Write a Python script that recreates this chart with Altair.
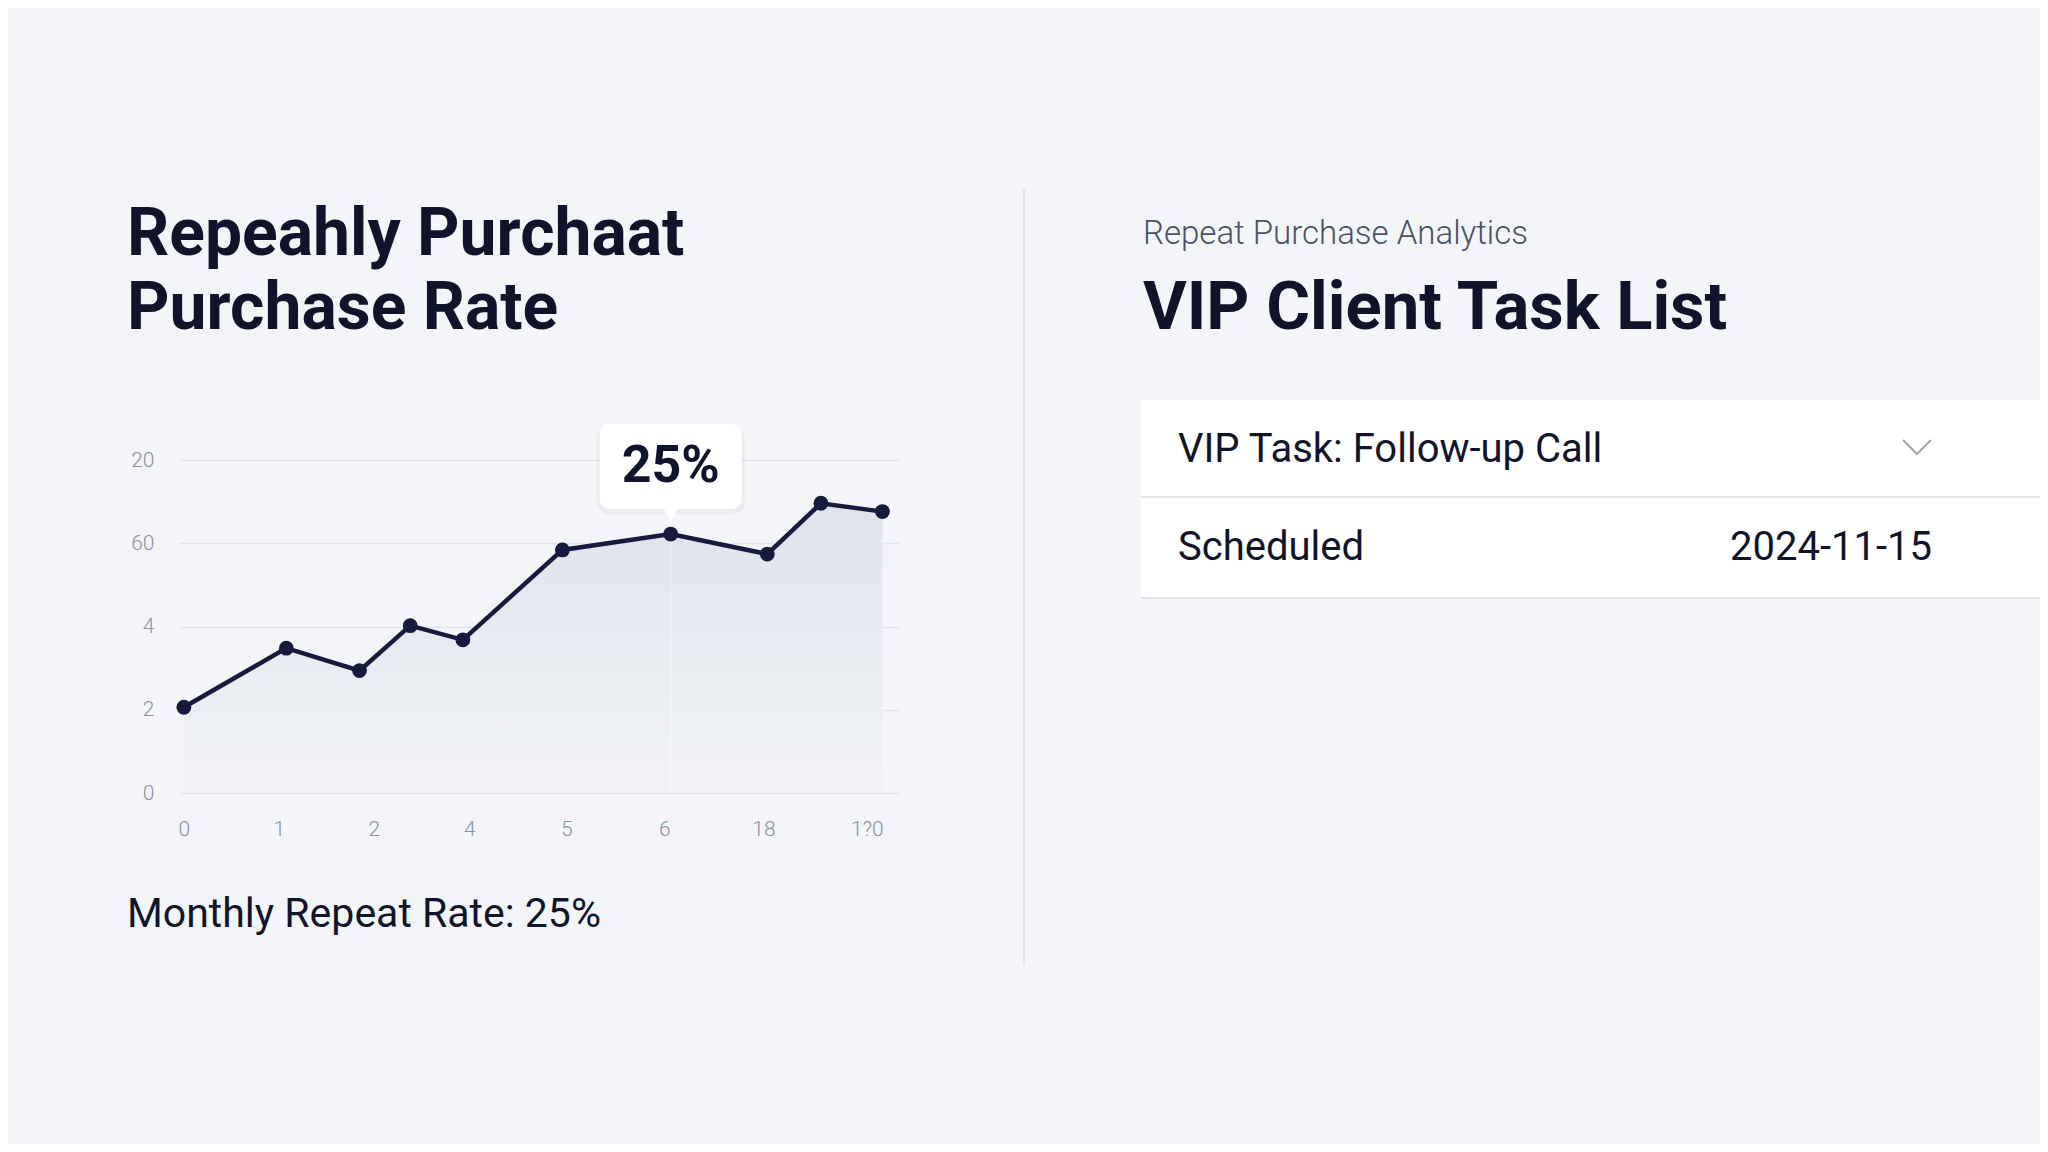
import json
import altair as alt
import pandas as pd

# ---- data ----
x_pos = [0.0, 1.05, 1.8, 2.32, 2.86, 3.88, 4.99, 5.98, 6.53, 7.16]
y_val = [1.03, 1.74, 1.47, 2.01, 1.84, 2.92, 3.11, 2.87, 3.48, 3.38]
x_tick_values = [0.0, 0.974, 1.948, 2.926, 3.92, 4.925, 5.94, 7.0]
x_tick_labels = ["0", "1", "2", "4", "5", "6", "18", "1?0"]
y_tick_values = [0, 1, 2, 3, 4]
y_tick_labels = ["0", "2", "4", "60", "20"]
highlight_index = 6
highlight_label = "25%"
title_lines = ["Repeahly Purchaat", "Purchase Rate"]
footer_text = "Monthly Repeat Rate: 25%"
panel_kicker = "Repeat Purchase Analytics"
panel_title = "VIP Client Task List"
task_name = "VIP Task: Follow-up Call"
task_status = "Scheduled"
task_date = "2024-11-15"

df = pd.DataFrame({"x": x_pos, "y": y_val})
hl = df.iloc[[highlight_index]].assign(label=highlight_label)

W, H = 720, 333
FONT = "Roboto"
NAVY = "#161b3d"
INK = "#10142b"

xscale = alt.Scale(domain=[-0.05, 7.33], nice=False, zero=False)
yscale = alt.Scale(domain=[0, 4], nice=False, zero=False)

x_axis = alt.Axis(
    values=x_tick_values,
    labelExpr=json.dumps(x_tick_labels) + "[indexof(" + json.dumps(x_tick_values) + ", datum.value)]",
    grid=False, domain=False, ticks=False, title=None,
    labelFont=FONT, labelFontSize=21, labelFontWeight=300,
    labelColor="#8b909c", labelPadding=25,
)
y_axis = alt.Axis(
    values=y_tick_values,
    labelExpr=json.dumps(y_tick_labels) + "[indexof(" + json.dumps(y_tick_values) + ", datum.value)]",
    grid=True, gridColor="#e2e5ea", gridWidth=1.5,
    domain=False, ticks=False, title=None,
    labelFont=FONT, labelFontSize=21, labelFontWeight=300,
    labelColor="#8b909c", labelPadding=25,
)

base = alt.Chart(df)

area = base.mark_area(
    color=alt.Gradient(
        gradient="linear",
        stops=[alt.GradientStop(color="#dde1ea", offset=0),
               alt.GradientStop(color="#f0f2f6", offset=1)],
        x1=1, x2=1, y1=0, y2=1,
    ),
    opacity=0.9,
).encode(
    x=alt.X("x:Q", scale=xscale, axis=x_axis),
    y=alt.Y("y:Q", scale=yscale, axis=y_axis),
)

line = base.mark_line(color=NAVY, strokeWidth=4.5).encode(
    x=alt.X("x:Q", scale=xscale), y=alt.Y("y:Q", scale=yscale)
)
points = base.mark_circle(size=220, color=NAVY, opacity=1).encode(
    x=alt.X("x:Q", scale=xscale), y=alt.Y("y:Q", scale=yscale)
)

hl_base = alt.Chart(hl)
hl_rule = hl_base.mark_rule(color="#ffffff", strokeWidth=2, opacity=0.3).encode(
    x=alt.X("x:Q", scale=xscale), y=alt.Y("y:Q", scale=yscale), y2=alt.value(H)
)
tip_shadow = hl_base.mark_rect(width=148, cornerRadius=12, color="#000000", opacity=0.035).encode(
    x=alt.X("x:Q", scale=xscale), y=alt.value(-34), y2=alt.value(54)
)
tip_box = hl_base.mark_rect(width=142, cornerRadius=10, color="#ffffff").encode(
    x=alt.X("x:Q", scale=xscale), y=alt.value(-36), y2=alt.value(49)
)
tip_arrow = hl_base.mark_point(shape="triangle-down", size=260, filled=True, color="#ffffff", opacity=1).encode(
    x=alt.X("x:Q", scale=xscale), y=alt.value(54)
)
tip_text = hl_base.mark_text(font=FONT, fontSize=52, fontWeight="bold", color=INK, baseline="middle").encode(
    x=alt.X("x:Q", scale=xscale), y=alt.value(6), text="label:N"
)


def label(text, x, y, size, weight="normal", color=INK, align="left", baseline="alphabetic"):
    return alt.Chart(pd.DataFrame({"t": [text]})).mark_text(
        font=FONT, fontSize=size, fontWeight=weight, color=color,
        align=align, baseline=baseline,
    ).encode(text="t:N", x=alt.value(x), y=alt.value(y))


def hrule(x, x2, y, color, width):
    return alt.Chart(pd.DataFrame({"a": [0]})).mark_rule(color=color, strokeWidth=width).encode(
        x=alt.value(x), x2=alt.value(x2), y=alt.value(y)
    )


one = pd.DataFrame({"a": [0]})
divider = alt.Chart(one).mark_rule(color="#e0e3e9", strokeWidth=2).encode(
    x=alt.value(845), y=alt.value(-271), y2=alt.value(506)
)
card = alt.Chart(one).mark_rect(color="#ffffff").encode(
    x=alt.value(962), x2=alt.value(1861), y=alt.value(-61), y2=alt.value(138)
)
card_top = hrule(962, 1861, -61, "#eef0f3", 1)
card_sep = hrule(962, 1861, 37, "#e3e6eb", 2)
card_bot = hrule(962, 1861, 138, "#e3e6eb", 2)
chevron = alt.Chart(one).mark_point(
    shape="M-1,-0.5L0,0.5L1,-0.5", size=780, filled=False, color="#a0a5b0", strokeWidth=2, opacity=1
).encode(x=alt.value(1738), y=alt.value(-13))

texts = [
    label(title_lines[0], -52, -205, 66, "bold"),
    label(title_lines[1], -52, -131, 66, "bold"),
    label(footer_text, -52, 455, 41, "normal", baseline="middle"),
    label(panel_kicker, 964, -216, 33, 300, color="#4b5166"),
    label(panel_title, 964, -131, 67, "bold"),
    label(task_name, 999, -10, 40, "normal", baseline="middle"),
    label(task_status, 999, 88, 40, "normal", baseline="middle"),
    label(task_date, 1753, 88, 40, "normal", align="right", baseline="middle"),
]

chart = alt.layer(
    divider, card, card_top, card_sep, card_bot, chevron,
    area, hl_rule, line, points,
    tip_shadow, tip_box, tip_arrow, tip_text,
    *texts,
).properties(
    width=W, height=H,
    autosize=alt.AutoSizeParams(type="none"),
    padding={"left": 171, "top": 452, "right": 1141, "bottom": 351},
    background="#f3f5f8",
).configure_view(stroke=None)

chart.save("out.html", embed_options={"renderer": "svg", "actions": False})
